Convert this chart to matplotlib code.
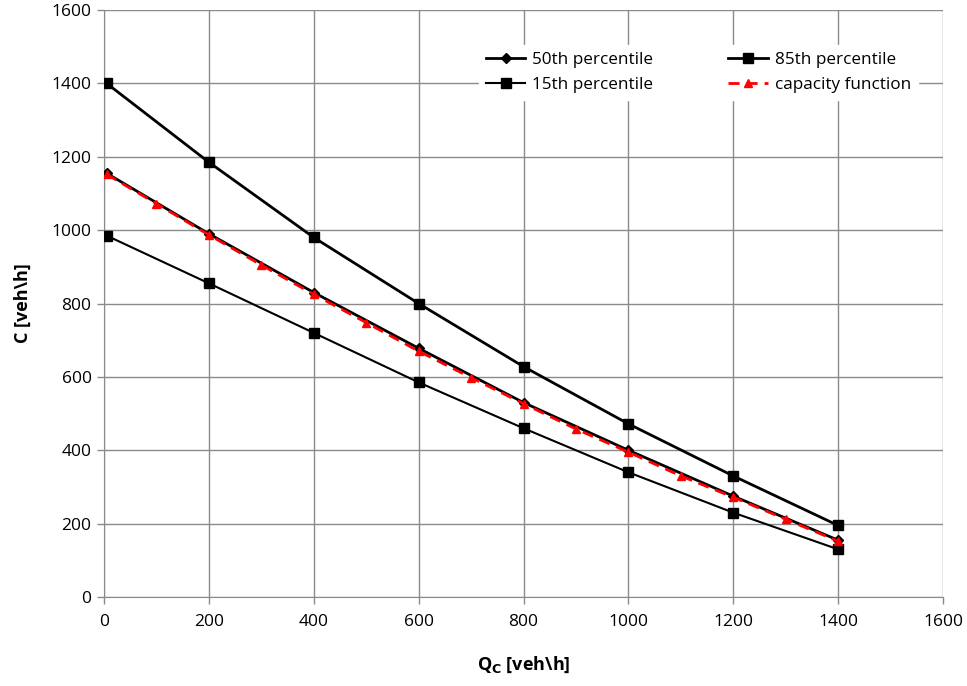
import matplotlib.pyplot as plt

# flow on the major road (veh/h)
qc_pct = [5, 200, 400, 600, 800, 1000, 1200, 1400]
p50 = [1155, 990, 830, 678, 530, 400, 275, 155]
p85 = [1400, 1185, 980, 800, 628, 472, 330, 195]
p15 = [985, 855, 720, 585, 460, 340, 230, 130]

qc_cap = [5, 100, 200, 300, 400, 500, 600, 700, 800, 900, 1000, 1100, 1200, 1300, 1400]
cap = [1152, 1072, 987, 905, 825, 748, 670, 598, 527, 458, 395, 330, 272, 212, 152]

plt.rcParams["font.family"] = ["Open Sans", "DejaVu Sans"]

fig = plt.figure(figsize=(9.67, 6.86), dpi=100)
ax = fig.add_axes([0.1076, 0.1297, 0.8676, 0.8557])

h50, = ax.plot(qc_pct, p50, color="black", lw=2, marker="D", ms=5.5, label="50th percentile", zorder=3)
h85, = ax.plot(qc_pct, p85, color="black", lw=2, marker="s", ms=6.5, label="85th percentile", zorder=3)
h15, = ax.plot(qc_pct, p15, color="black", lw=1.5, marker="s", ms=6.5, label="15th percentile", zorder=3)
hcap, = ax.plot(qc_cap, cap, color="red", lw=2, ls=(0, (4, 2.5)), marker="^", ms=6,
                label="capacity function", zorder=4)

ax.set_xlim(0, 1600)
ax.set_ylim(0, 1600)
ax.set_xticks(range(0, 1601, 200))
ax.set_yticks(range(0, 1601, 200))
ax.grid(True, color="#8a8a8a", lw=1)
ax.set_axisbelow(True)
for side in ["top", "right"]:
    ax.spines[side].set_visible(False)
for side in ["left", "bottom"]:
    ax.spines[side].set_color("#8a8a8a")
ax.tick_params(axis="both", colors="#8a8a8a", labelcolor="black", labelsize=12.5, length=5, width=1)
ax.tick_params(axis="x", pad=7)
ax.tick_params(axis="y", pad=4)

ax.set_ylabel(r"C [veh\h]", fontsize=13, fontweight="bold", labelpad=14)
ax.set_xlabel(r"Q$_\mathbf{C}$ [veh\h]", fontsize=13, fontweight="bold", labelpad=18)

ax.legend([h50, h15, h85, hcap],
          ["50th percentile", "15th percentile", "85th percentile", "capacity function"],
          loc="upper right", bbox_to_anchor=(0.98, 0.955), ncol=2, fontsize=12.3,
          frameon=True, facecolor="white", edgecolor="white", framealpha=1,
          handlelength=2.3, handletextpad=0.4, columnspacing=4.4, borderpad=0.4,
          labelspacing=0.55, fancybox=False)

fig.savefig("out.png", dpi=100)
